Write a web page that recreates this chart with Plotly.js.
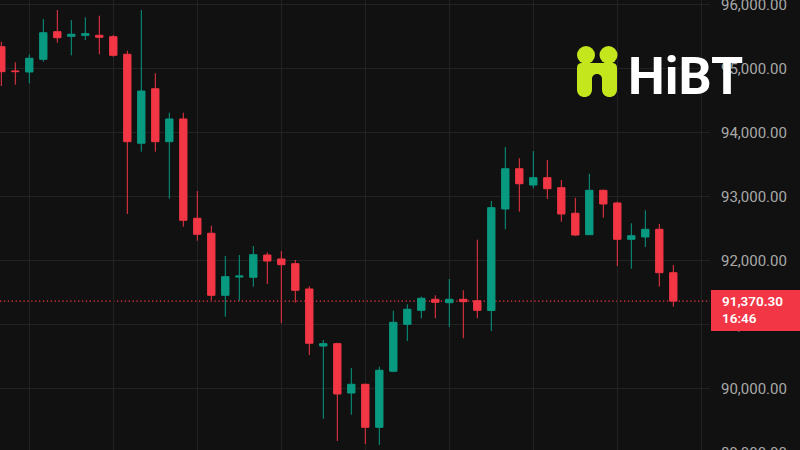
<!DOCTYPE html>
<html>
<head>
<meta charset="utf-8">
<script src="https://cdn.plot.ly/plotly-3.0.1.min.js"></script>
<style>
html,body{margin:0;padding:0;background:#111111;overflow:hidden;width:800px;height:450px}
#chart{position:absolute;left:0;top:-20px;width:800px;height:490px}
</style>
</head>
<body>
<div id="chart"></div>
<script>
// ---- data ----
const opens  = [95339,94960,94944,95142,95573,95501,95516,95516,95495,95220,
                93832,94683,93857,94211,92662,92428,91460,91745,91741,92089,
                92027,91953,91559,90669,90706,89936,90072,89401,90275,91008,
                91226,91398,91345,91398,91376,91223,92807,93435,93181,93295,
                93139,92740,92406,93098,92900,92334,92370,92490,91813];
const highs  = [95417,95095,95220,95771,95911,95755,95797,95822,95521,95276,
                95911,94924,94309,94309,93087,92546,92073,92089,92229,92131,
                92152,92011,91601,90763,90720,90326,90080,90347,91220,91320,
                91439,91460,91715,91538,92328,92931,93774,93598,93711,93571,
                93259,92983,93357,93110,92921,92584,92786,92573,91933];
const lows   = [94725,94746,94768,95105,95401,95204,95443,95220,95183,92729,
                93701,93701,92967,92531,92312,91387,91127,91372,91595,91637,
                91024,91345,90529,89535,89187,89598,89141,89125,90260,90747,
                91102,91102,90966,90790,91102,90903,92490,92765,93130,92963,
                92609,92390,92400,92671,91917,91875,92214,91595,91283];
const closes = [94949,94950,95158,95557,95479,95532,95541,95485,95204,93857,
                94647,93857,94211,92630,92412,91460,91751,91760,92094,91995,
                91938,91538,90712,90706,89921,90072,89401,90291,91039,91242,
                91414,91351,91398,91361,91226,92827,93435,93201,93295,93123,
                92729,92401,93098,92885,92334,92390,92490,91813,91370.30];
const candleIndex = opens.map((_, i) => i);
const lastPrice = 91370.30;
const lastPriceLabel = "91,370.30";
const countdownLabel = "16:46";
const logoText = "HiBT";

// ---- colours ----
const UP = '#089981', DOWN = '#f23645', BG = '#111111', GRID = '#222222';
const LOGO_GREEN = '#c3e61c';

// page-pixel -> paper helpers (plot area spans x 0..710, page y -20..470)
const PW = 710, PTOP = -20, PH = 490;
const px = X => X / PW;
const py = Y => (PTOP + PH - Y) / PH;
function path(cmds) {
  return cmds.map(c => {
    if (typeof c === 'string') return c;
    return px(c[0]).toFixed(5) + ',' + py(c[1]).toFixed(5);
  }).join(' ');
}

const trace = {
  type: 'candlestick',
  x: candleIndex,
  open: opens, high: highs, low: lows, close: closes,
  increasing: {line: {color: UP, width: 1}, fillcolor: UP},
  decreasing: {line: {color: DOWN, width: 1}, fillcolor: DOWN},
  whiskerwidth: 0,
  hoverinfo: 'skip',
  showlegend: false
};

const bodyPath = path([
  'M', [577, 68], 'Q', [577, 63], [582, 63], 'L', [612, 63], 'Q', [617, 63], [617, 68],
  'L', [617, 89.5], 'C', [617, 99.5], [602, 99.5], [602, 89.5],
  'L', [602, 79], 'C', [602, 72.3], [592, 72.3], [592, 79],
  'L', [592, 89.5], 'C', [592, 99.5], [577, 99.5], [577, 89.5], 'Z'
]);

const layout = {
  width: 800, height: 490,
  margin: {l: 0, r: 90, t: 0, b: 0, pad: 0},
  paper_bgcolor: BG, plot_bgcolor: BG,
  showlegend: false,
  boxgap: 0.25,
  font: {family: 'Roboto, sans-serif', color: '#a9a9a9', size: 15},
  xaxis: {
    type: 'linear', range: [-0.093, 50.62],
    tick0: 2, dtick: 6, showticklabels: false, ticks: '',
    showgrid: true, gridcolor: GRID, gridwidth: 1,
    zeroline: false, showline: false,
    rangeslider: {visible: false}, fixedrange: true
  },
  yaxis: {
    side: 'right', range: [88735, 96379],
    tick0: 0, dtick: 1000, tickformat: ',.2f',
    ticks: '', ticklabelstandoff: 10,
    tickfont: {family: 'Roboto, sans-serif', size: 15, color: '#a9a9a9'},
    showgrid: true, gridcolor: GRID, gridwidth: 1,
    zeroline: false, showline: false, fixedrange: true
  },
  shapes: [
    // last price dotted line
    {type: 'line', xref: 'x domain', yref: 'y', x0: 0, x1: 1, y0: lastPrice, y1: lastPrice,
     line: {color: DOWN, width: 1.3, dash: '1.3px,2.6px'}, layer: 'below'},
    // last price label box
    {type: 'rect', xref: 'paper', yref: 'paper', x0: px(711), x1: px(800), y0: py(331), y1: py(290),
     fillcolor: DOWN, line: {width: 0}, layer: 'above'},
    // logo icon: heads + body
    {type: 'circle', xref: 'paper', yref: 'paper', x0: px(577), x1: px(595), y0: py(64), y1: py(46),
     fillcolor: LOGO_GREEN, line: {width: 0}, layer: 'above'},
    {type: 'circle', xref: 'paper', yref: 'paper', x0: px(599.5), x1: px(617.5), y0: py(64), y1: py(46),
     fillcolor: LOGO_GREEN, line: {width: 0}, layer: 'above'},
    {type: 'path', xref: 'paper', yref: 'paper', path: bodyPath,
     fillcolor: LOGO_GREEN, line: {width: 0}, layer: 'above'}
  ],
  annotations: [
    {xref: 'paper', yref: 'paper', x: px(720.5), y: py(300.5), xanchor: 'left', yanchor: 'middle',
     text: lastPriceLabel, showarrow: false, borderpad: 0,
     font: {family: 'Roboto, sans-serif', size: 13.5, color: '#ffffff', weight: 600}},
    {xref: 'paper', yref: 'paper', x: px(720.5), y: py(318), xanchor: 'left', yanchor: 'middle',
     text: countdownLabel, showarrow: false, borderpad: 0,
     font: {family: 'Roboto, sans-serif', size: 13.5, color: '#ffffff', weight: 600}},
    {xref: 'paper', yref: 'paper', x: px(685), y: py(76), xanchor: 'center', yanchor: 'middle',
     text: logoText, showarrow: false, borderpad: 0,
     font: {family: 'Roboto, sans-serif', size: 52, color: '#ffffff', weight: 700}}
  ]
};

Plotly.newPlot('chart', [trace], layout, {staticPlot: true, displayModeBar: false});
</script>
</body>
</html>
